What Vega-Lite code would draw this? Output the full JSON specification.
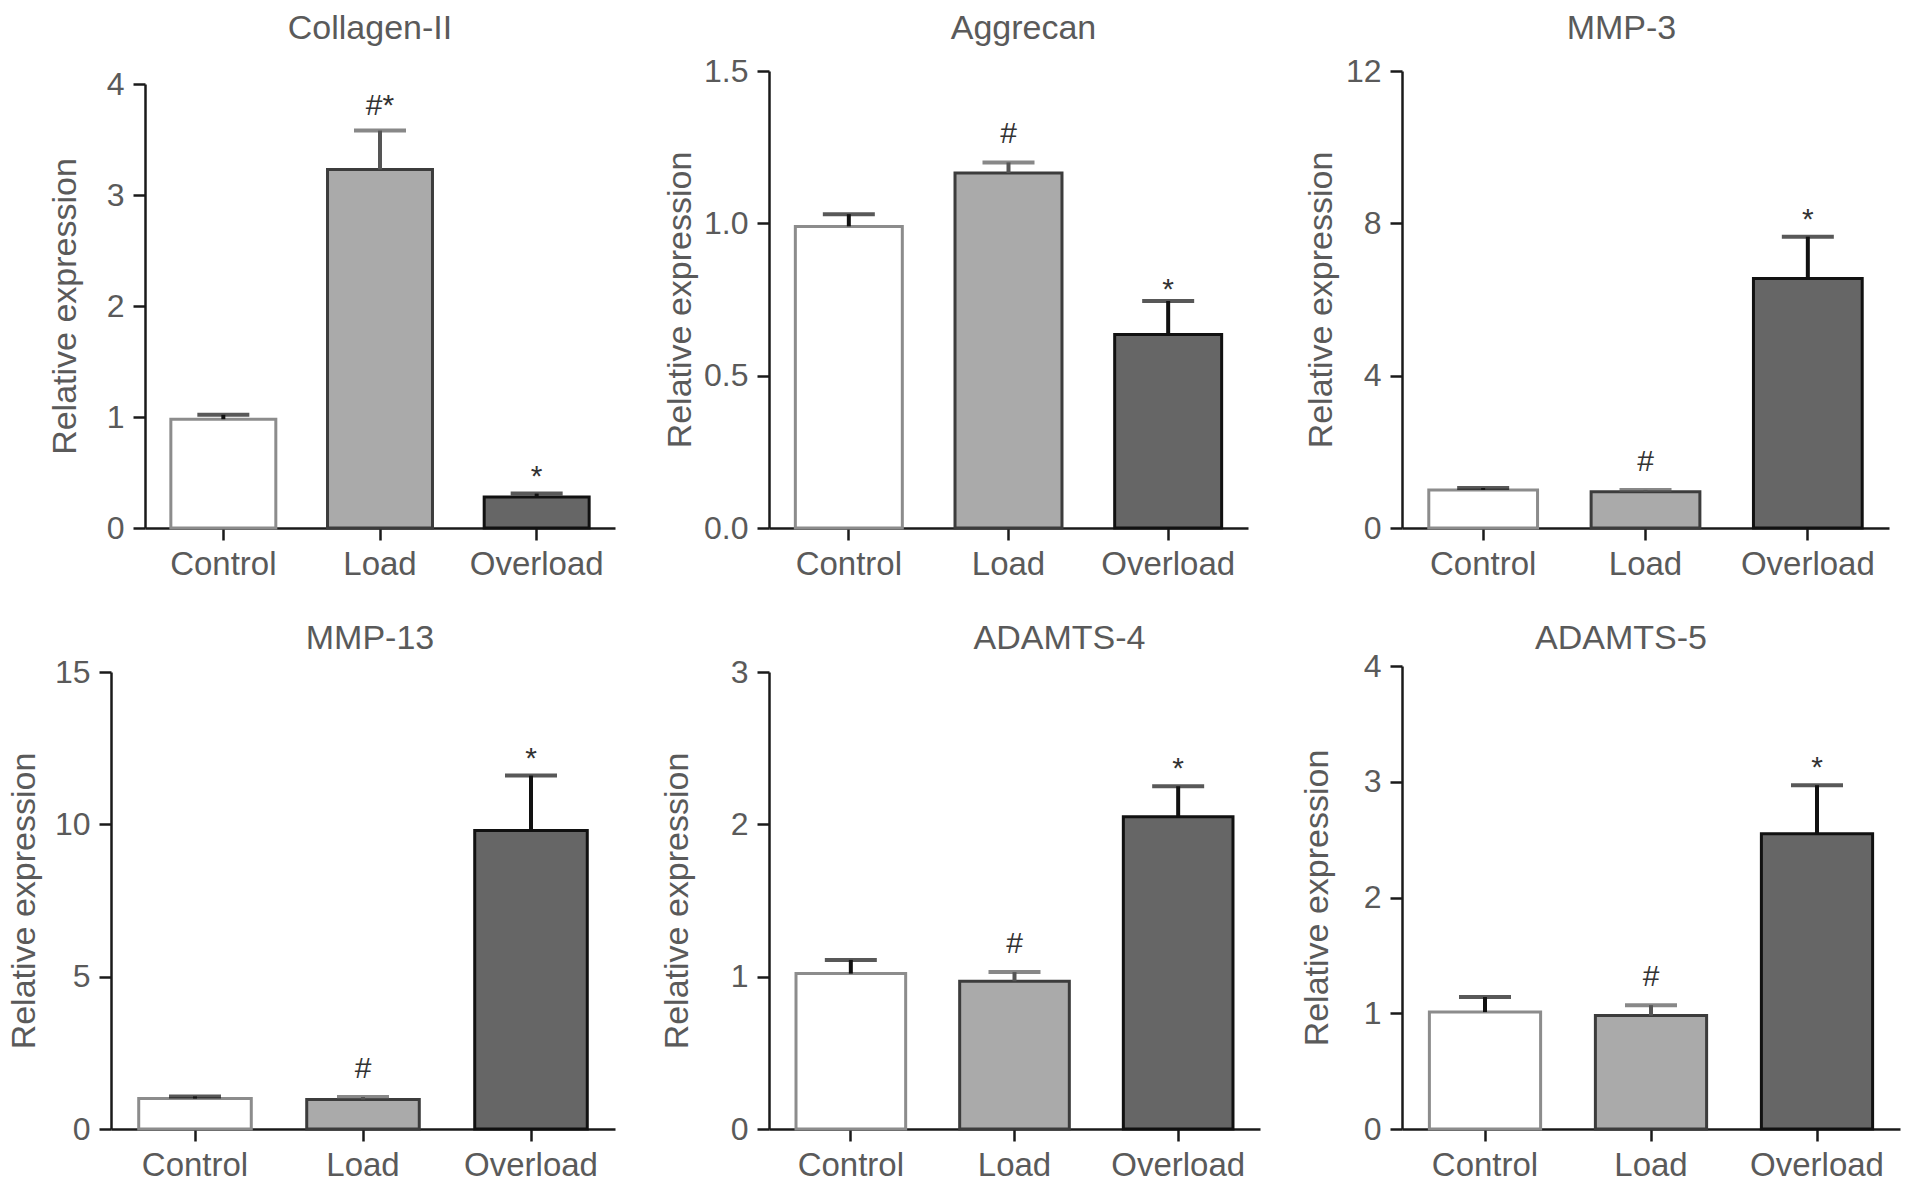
{
  "$schema": "https://vega.github.io/schema/vega-lite/v6.json",
  "padding": {"left": 7, "top": 12, "right": 5, "bottom": 5},
  "background": "white",
  "data": {"values": [
    {"gene": "Collagen-II", "group": "Control", "mean": 0.98, "upper": 1.02, "sig": ""},
    {"gene": "Collagen-II", "group": "Load", "mean": 3.23, "upper": 3.58, "sig": "#*"},
    {"gene": "Collagen-II", "group": "Overload", "mean": 0.28, "upper": 0.31, "sig": "*"},
    {"gene": "Aggrecan", "group": "Control", "mean": 0.99, "upper": 1.03, "sig": ""},
    {"gene": "Aggrecan", "group": "Load", "mean": 1.165, "upper": 1.2, "sig": "#"},
    {"gene": "Aggrecan", "group": "Overload", "mean": 0.635, "upper": 0.745, "sig": "*"},
    {"gene": "MMP-3", "group": "Control", "mean": 1.0, "upper": 1.05, "sig": ""},
    {"gene": "MMP-3", "group": "Load", "mean": 0.95, "upper": 1.0, "sig": "#"},
    {"gene": "MMP-3", "group": "Overload", "mean": 6.55, "upper": 7.65, "sig": "*"},
    {"gene": "MMP-13", "group": "Control", "mean": 1.0, "upper": 1.07, "sig": ""},
    {"gene": "MMP-13", "group": "Load", "mean": 0.97, "upper": 1.05, "sig": "#"},
    {"gene": "MMP-13", "group": "Overload", "mean": 9.8, "upper": 11.6, "sig": "*"},
    {"gene": "ADAMTS-4", "group": "Control", "mean": 1.02, "upper": 1.11, "sig": ""},
    {"gene": "ADAMTS-4", "group": "Load", "mean": 0.97, "upper": 1.03, "sig": "#"},
    {"gene": "ADAMTS-4", "group": "Overload", "mean": 2.05, "upper": 2.25, "sig": "*"},
    {"gene": "ADAMTS-5", "group": "Control", "mean": 1.01, "upper": 1.14, "sig": ""},
    {"gene": "ADAMTS-5", "group": "Load", "mean": 0.98, "upper": 1.07, "sig": "#"},
    {"gene": "ADAMTS-5", "group": "Overload", "mean": 2.55, "upper": 2.97, "sig": "*"}
  ]},
  "bounds": "flush",
  "align": "none",
  "columns": 3,
  "spacing": {"column": 154, "row": 138},
  "concat": [
    {
      "width": 504, "height": 457,
      "title": {"text": "Collagen-II", "dx": 7, "offset": 22},
      "transform": [{"filter": "datum.gene === 'Collagen-II'"}],
      "layer": [
        {"mark": {"type": "bar", "strokeWidth": 3}, "encoding": {
          "x": {"field": "group", "type": "nominal", "sort": ["Control", "Load", "Overload"], "scale": {"range": [34, 504], "paddingInner": 0.33, "paddingOuter": 0.165}, "axis": {"title": null, "labelAngle": 0}},
          "y": {"field": "mean", "type": "quantitative", "scale": {"domain": [0, 4], "range": [457, 13], "nice": false}, "axis": {"values": [0, 1, 2, 3, 4], "format": "d", "title": "Relative expression", "titlePadding": 13, "offset": -34}},
          "fill": {"field": "group", "type": "nominal", "scale": {"domain": ["Control", "Load", "Overload"], "range": ["#ffffff", "#aaaaaa", "#666666"]}, "legend": null},
          "stroke": {"field": "group", "type": "nominal", "scale": {"domain": ["Control", "Load", "Overload"], "range": ["#8c8c8c", "#3c3c3c", "#111111"]}, "legend": null}}},
        {"mark": {"type": "rule", "strokeWidth": 4}, "encoding": {
          "x": {"field": "group", "type": "nominal", "sort": ["Control", "Load", "Overload"]},
          "y": {"field": "mean", "type": "quantitative"},
          "y2": {"field": "upper"},
          "color": {"field": "group", "type": "nominal", "scale": {"domain": ["Control", "Load", "Overload"], "range": ["#111111", "#555555", "#111111"]}, "legend": null}}},
        {"mark": {"type": "tick", "size": 52, "thickness": 4}, "encoding": {
          "x": {"field": "group", "type": "nominal", "sort": ["Control", "Load", "Overload"]},
          "y": {"field": "upper", "type": "quantitative"},
          "color": {"field": "group", "type": "nominal", "scale": {"domain": ["Control", "Load", "Overload"], "range": ["#111111", "#555555", "#111111"]}, "legend": null}}},
        {"transform": [{"filter": "indexof(datum.sig, '#') >= 0"}], "mark": {"type": "text", "dy": -16, "fontSize": 30, "color": "#333333", "baseline": "alphabetic"}, "encoding": {
          "x": {"field": "group", "type": "nominal", "sort": ["Control", "Load", "Overload"]},
          "y": {"field": "upper", "type": "quantitative"},
          "text": {"field": "sig"}}},
        {"transform": [{"filter": "datum.sig === '*'"}], "mark": {"type": "text", "dy": -8, "fontSize": 30, "color": "#333333", "baseline": "alphabetic"}, "encoding": {
          "x": {"field": "group", "type": "nominal", "sort": ["Control", "Load", "Overload"]},
          "y": {"field": "upper", "type": "quantitative"},
          "text": {"field": "sig"}}}
      ]
    },
    {
      "width": 479, "height": 457,
      "title": {"text": "Aggrecan", "dx": 15, "offset": 9},
      "transform": [{"filter": "datum.gene === 'Aggrecan'"}],
      "layer": [
        {"mark": {"type": "bar", "strokeWidth": 3}, "encoding": {
          "x": {"field": "group", "type": "nominal", "sort": ["Control", "Load", "Overload"], "scale": {"paddingInner": 0.33, "paddingOuter": 0.165}, "axis": {"title": null, "labelAngle": 0}},
          "y": {"field": "mean", "type": "quantitative", "scale": {"domain": [0, 1.5], "nice": false}, "axis": {"values": [0, 0.5, 1.0, 1.5], "format": ".1f", "title": "Relative expression", "titlePadding": 22}},
          "fill": {"field": "group", "type": "nominal", "scale": {"domain": ["Control", "Load", "Overload"], "range": ["#ffffff", "#aaaaaa", "#666666"]}, "legend": null},
          "stroke": {"field": "group", "type": "nominal", "scale": {"domain": ["Control", "Load", "Overload"], "range": ["#8c8c8c", "#3c3c3c", "#111111"]}, "legend": null}}},
        {"mark": {"type": "rule", "strokeWidth": 4}, "encoding": {
          "x": {"field": "group", "type": "nominal", "sort": ["Control", "Load", "Overload"]},
          "y": {"field": "mean", "type": "quantitative"},
          "y2": {"field": "upper"},
          "color": {"field": "group", "type": "nominal", "scale": {"domain": ["Control", "Load", "Overload"], "range": ["#111111", "#555555", "#111111"]}, "legend": null}}},
        {"mark": {"type": "tick", "size": 52, "thickness": 4}, "encoding": {
          "x": {"field": "group", "type": "nominal", "sort": ["Control", "Load", "Overload"]},
          "y": {"field": "upper", "type": "quantitative"},
          "color": {"field": "group", "type": "nominal", "scale": {"domain": ["Control", "Load", "Overload"], "range": ["#111111", "#555555", "#111111"]}, "legend": null}}},
        {"transform": [{"filter": "indexof(datum.sig, '#') >= 0"}], "mark": {"type": "text", "dy": -19, "fontSize": 30, "color": "#333333", "baseline": "alphabetic"}, "encoding": {
          "x": {"field": "group", "type": "nominal", "sort": ["Control", "Load", "Overload"]},
          "y": {"field": "upper", "type": "quantitative"},
          "text": {"field": "sig"}}},
        {"transform": [{"filter": "datum.sig === '*'"}], "mark": {"type": "text", "dy": -2, "fontSize": 30, "color": "#333333", "baseline": "alphabetic"}, "encoding": {
          "x": {"field": "group", "type": "nominal", "sort": ["Control", "Load", "Overload"]},
          "y": {"field": "upper", "type": "quantitative"},
          "text": {"field": "sig"}}}
      ]
    },
    {
      "width": 487, "height": 457,
      "title": {"text": "MMP-3", "dx": -24, "offset": 9},
      "transform": [{"filter": "datum.gene === 'MMP-3'"}],
      "layer": [
        {"mark": {"type": "bar", "strokeWidth": 3}, "encoding": {
          "x": {"field": "group", "type": "nominal", "sort": ["Control", "Load", "Overload"], "scale": {"paddingInner": 0.33, "paddingOuter": 0.165}, "axis": {"title": null, "labelAngle": 0}},
          "y": {"field": "mean", "type": "quantitative", "scale": {"domain": [0, 12], "nice": false}, "axis": {"values": [0, 4, 8, 12], "format": "d", "title": "Relative expression", "titlePadding": 14}},
          "fill": {"field": "group", "type": "nominal", "scale": {"domain": ["Control", "Load", "Overload"], "range": ["#ffffff", "#aaaaaa", "#666666"]}, "legend": null},
          "stroke": {"field": "group", "type": "nominal", "scale": {"domain": ["Control", "Load", "Overload"], "range": ["#8c8c8c", "#3c3c3c", "#111111"]}, "legend": null}}},
        {"mark": {"type": "rule", "strokeWidth": 4}, "encoding": {
          "x": {"field": "group", "type": "nominal", "sort": ["Control", "Load", "Overload"]},
          "y": {"field": "mean", "type": "quantitative"},
          "y2": {"field": "upper"},
          "color": {"field": "group", "type": "nominal", "scale": {"domain": ["Control", "Load", "Overload"], "range": ["#111111", "#555555", "#111111"]}, "legend": null}}},
        {"mark": {"type": "tick", "size": 52, "thickness": 4}, "encoding": {
          "x": {"field": "group", "type": "nominal", "sort": ["Control", "Load", "Overload"]},
          "y": {"field": "upper", "type": "quantitative"},
          "color": {"field": "group", "type": "nominal", "scale": {"domain": ["Control", "Load", "Overload"], "range": ["#111111", "#555555", "#111111"]}, "legend": null}}},
        {"transform": [{"filter": "indexof(datum.sig, '#') >= 0"}], "mark": {"type": "text", "dy": -19, "fontSize": 30, "color": "#333333", "baseline": "alphabetic"}, "encoding": {
          "x": {"field": "group", "type": "nominal", "sort": ["Control", "Load", "Overload"]},
          "y": {"field": "upper", "type": "quantitative"},
          "text": {"field": "sig"}}},
        {"transform": [{"filter": "datum.sig === '*'"}], "mark": {"type": "text", "dy": -8, "fontSize": 30, "color": "#333333", "baseline": "alphabetic"}, "encoding": {
          "x": {"field": "group", "type": "nominal", "sort": ["Control", "Load", "Overload"]},
          "y": {"field": "upper", "type": "quantitative"},
          "text": {"field": "sig"}}}
      ]
    },
    {
      "width": 504, "height": 463,
      "title": {"text": "MMP-13", "dx": 7, "offset": 0},
      "transform": [{"filter": "datum.gene === 'MMP-13'"}],
      "layer": [
        {"mark": {"type": "bar", "strokeWidth": 3}, "encoding": {
          "x": {"field": "group", "type": "nominal", "sort": ["Control", "Load", "Overload"], "scale": {"paddingInner": 0.33, "paddingOuter": 0.165}, "axis": {"title": null, "labelAngle": 0}},
          "y": {"field": "mean", "type": "quantitative", "scale": {"domain": [0, 15], "range": [463, 6], "nice": false}, "axis": {"values": [0, 5, 10, 15], "format": "d", "title": "Relative expression", "titlePadding": 20}},
          "fill": {"field": "group", "type": "nominal", "scale": {"domain": ["Control", "Load", "Overload"], "range": ["#ffffff", "#aaaaaa", "#666666"]}, "legend": null},
          "stroke": {"field": "group", "type": "nominal", "scale": {"domain": ["Control", "Load", "Overload"], "range": ["#8c8c8c", "#3c3c3c", "#111111"]}, "legend": null}}},
        {"mark": {"type": "rule", "strokeWidth": 4}, "encoding": {
          "x": {"field": "group", "type": "nominal", "sort": ["Control", "Load", "Overload"]},
          "y": {"field": "mean", "type": "quantitative"},
          "y2": {"field": "upper"},
          "color": {"field": "group", "type": "nominal", "scale": {"domain": ["Control", "Load", "Overload"], "range": ["#111111", "#555555", "#111111"]}, "legend": null}}},
        {"mark": {"type": "tick", "size": 52, "thickness": 4}, "encoding": {
          "x": {"field": "group", "type": "nominal", "sort": ["Control", "Load", "Overload"]},
          "y": {"field": "upper", "type": "quantitative"},
          "color": {"field": "group", "type": "nominal", "scale": {"domain": ["Control", "Load", "Overload"], "range": ["#111111", "#555555", "#111111"]}, "legend": null}}},
        {"transform": [{"filter": "indexof(datum.sig, '#') >= 0"}], "mark": {"type": "text", "dy": -19, "fontSize": 30, "color": "#333333", "baseline": "alphabetic"}, "encoding": {
          "x": {"field": "group", "type": "nominal", "sort": ["Control", "Load", "Overload"]},
          "y": {"field": "upper", "type": "quantitative"},
          "text": {"field": "sig"}}},
        {"transform": [{"filter": "datum.sig === '*'"}], "mark": {"type": "text", "dy": -8, "fontSize": 30, "color": "#333333", "baseline": "alphabetic"}, "encoding": {
          "x": {"field": "group", "type": "nominal", "sort": ["Control", "Load", "Overload"]},
          "y": {"field": "upper", "type": "quantitative"},
          "text": {"field": "sig"}}}
      ]
    },
    {
      "width": 475, "height": 463,
      "title": {"text": "ADAMTS-4", "dx": 53, "offset": 0},
      "transform": [{"filter": "datum.gene === 'ADAMTS-4'"}],
      "layer": [
        {"mark": {"type": "bar", "strokeWidth": 3}, "encoding": {
          "x": {"field": "group", "type": "nominal", "sort": ["Control", "Load", "Overload"], "scale": {"range": [0, 491], "paddingInner": 0.33, "paddingOuter": 0.165}, "axis": {"title": null, "labelAngle": 0}},
          "y": {"field": "mean", "type": "quantitative", "scale": {"domain": [0, 3], "range": [463, 6], "nice": false}, "axis": {"values": [0, 1, 2, 3], "format": "d", "title": "Relative expression", "titlePadding": 25}},
          "fill": {"field": "group", "type": "nominal", "scale": {"domain": ["Control", "Load", "Overload"], "range": ["#ffffff", "#aaaaaa", "#666666"]}, "legend": null},
          "stroke": {"field": "group", "type": "nominal", "scale": {"domain": ["Control", "Load", "Overload"], "range": ["#8c8c8c", "#3c3c3c", "#111111"]}, "legend": null}}},
        {"mark": {"type": "rule", "strokeWidth": 4}, "encoding": {
          "x": {"field": "group", "type": "nominal", "sort": ["Control", "Load", "Overload"]},
          "y": {"field": "mean", "type": "quantitative"},
          "y2": {"field": "upper"},
          "color": {"field": "group", "type": "nominal", "scale": {"domain": ["Control", "Load", "Overload"], "range": ["#111111", "#555555", "#111111"]}, "legend": null}}},
        {"mark": {"type": "tick", "size": 52, "thickness": 4}, "encoding": {
          "x": {"field": "group", "type": "nominal", "sort": ["Control", "Load", "Overload"]},
          "y": {"field": "upper", "type": "quantitative"},
          "color": {"field": "group", "type": "nominal", "scale": {"domain": ["Control", "Load", "Overload"], "range": ["#111111", "#555555", "#111111"]}, "legend": null}}},
        {"transform": [{"filter": "indexof(datum.sig, '#') >= 0"}], "mark": {"type": "text", "dy": -19, "fontSize": 30, "color": "#333333", "baseline": "alphabetic"}, "encoding": {
          "x": {"field": "group", "type": "nominal", "sort": ["Control", "Load", "Overload"]},
          "y": {"field": "upper", "type": "quantitative"},
          "text": {"field": "sig"}}},
        {"transform": [{"filter": "datum.sig === '*'"}], "mark": {"type": "text", "dy": -8, "fontSize": 30, "color": "#333333", "baseline": "alphabetic"}, "encoding": {
          "x": {"field": "group", "type": "nominal", "sort": ["Control", "Load", "Overload"]},
          "y": {"field": "upper", "type": "quantitative"},
          "text": {"field": "sig"}}}
      ]
    },
    {
      "width": 498, "height": 463,
      "title": {"text": "ADAMTS-5", "dx": -30, "offset": -6},
      "transform": [{"filter": "datum.gene === 'ADAMTS-5'"}],
      "layer": [
        {"mark": {"type": "bar", "strokeWidth": 3}, "encoding": {
          "x": {"field": "group", "type": "nominal", "sort": ["Control", "Load", "Overload"], "scale": {"paddingInner": 0.33, "paddingOuter": 0.165}, "axis": {"title": null, "labelAngle": 0}},
          "y": {"field": "mean", "type": "quantitative", "scale": {"domain": [0, 4], "nice": false}, "axis": {"values": [0, 1, 2, 3, 4], "format": "d", "title": "Relative expression", "titlePadding": 18}},
          "fill": {"field": "group", "type": "nominal", "scale": {"domain": ["Control", "Load", "Overload"], "range": ["#ffffff", "#aaaaaa", "#666666"]}, "legend": null},
          "stroke": {"field": "group", "type": "nominal", "scale": {"domain": ["Control", "Load", "Overload"], "range": ["#8c8c8c", "#3c3c3c", "#111111"]}, "legend": null}}},
        {"mark": {"type": "rule", "strokeWidth": 4}, "encoding": {
          "x": {"field": "group", "type": "nominal", "sort": ["Control", "Load", "Overload"]},
          "y": {"field": "mean", "type": "quantitative"},
          "y2": {"field": "upper"},
          "color": {"field": "group", "type": "nominal", "scale": {"domain": ["Control", "Load", "Overload"], "range": ["#111111", "#555555", "#111111"]}, "legend": null}}},
        {"mark": {"type": "tick", "size": 52, "thickness": 4}, "encoding": {
          "x": {"field": "group", "type": "nominal", "sort": ["Control", "Load", "Overload"]},
          "y": {"field": "upper", "type": "quantitative"},
          "color": {"field": "group", "type": "nominal", "scale": {"domain": ["Control", "Load", "Overload"], "range": ["#111111", "#555555", "#111111"]}, "legend": null}}},
        {"transform": [{"filter": "indexof(datum.sig, '#') >= 0"}], "mark": {"type": "text", "dy": -19, "fontSize": 30, "color": "#333333", "baseline": "alphabetic"}, "encoding": {
          "x": {"field": "group", "type": "nominal", "sort": ["Control", "Load", "Overload"]},
          "y": {"field": "upper", "type": "quantitative"},
          "text": {"field": "sig"}}},
        {"transform": [{"filter": "datum.sig === '*'"}], "mark": {"type": "text", "dy": -8, "fontSize": 30, "color": "#333333", "baseline": "alphabetic"}, "encoding": {
          "x": {"field": "group", "type": "nominal", "sort": ["Control", "Load", "Overload"]},
          "y": {"field": "upper", "type": "quantitative"},
          "text": {"field": "sig"}}}
      ]
    }
  ],
  "config": {
    "view": {"stroke": null},
    "font": "Liberation Sans",
    "axis": {"domainColor": "#1a1a1a", "domainWidth": 2.5, "tickColor": "#1a1a1a", "tickWidth": 2.5, "tickSize": 12, "labelColor": "#5a5a5a", "labelFont": "Liberation Sans", "grid": false, "titleColor": "#5a5a5a", "titleFont": "Liberation Sans", "titleFontWeight": "normal", "titleFontSize": 34},
    "axisX": {"labelFontSize": 33, "labelPadding": 8},
    "axisY": {"labelFontSize": 32, "labelPadding": 9, "minExtent": 50, "maxExtent": 50},
    "title": {"font": "Liberation Sans", "fontSize": 34, "fontWeight": "normal", "color": "#5a5a5a", "anchor": "middle", "baseline": "alphabetic", "frame": "group"}
  }
}
